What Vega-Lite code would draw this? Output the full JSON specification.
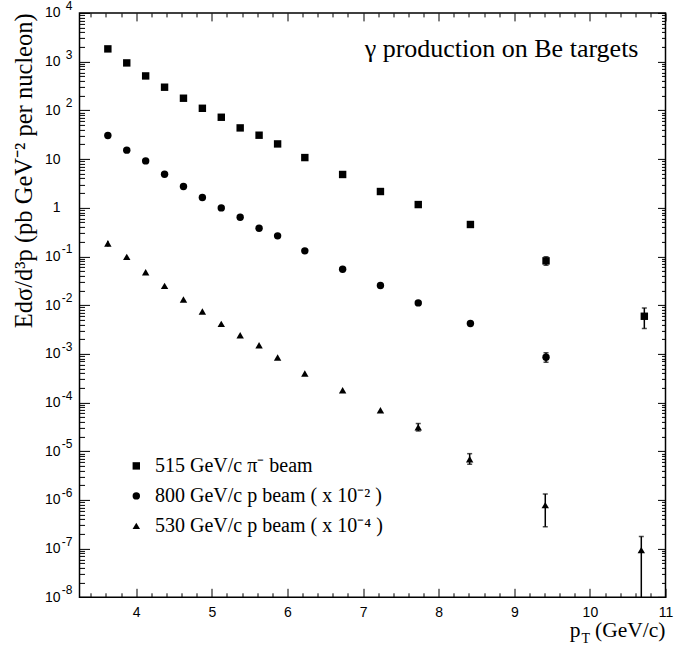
{
  "$schema": "https://vega.github.io/schema/vega-lite/v6.json",
  "autosize": "none",
  "width": 586,
  "height": 584.4,
  "padding": {"left": 79.5, "top": 12.9, "right": 33.5, "bottom": 49.7},
  "background": "white",
  "config": {"view": {"stroke": "black", "strokeWidth": 1.5}},
  "datasets": {
    "main": [
      {"series": "515 GeV/c π⁻ beam", "x": 3.625, "y": 1824, "lo": 1600, "hi": 2050},
      {"series": "515 GeV/c π⁻ beam", "x": 3.875, "y": 940},
      {"series": "515 GeV/c π⁻ beam", "x": 4.125, "y": 508},
      {"series": "515 GeV/c π⁻ beam", "x": 4.375, "y": 298},
      {"series": "515 GeV/c π⁻ beam", "x": 4.625, "y": 177},
      {"series": "515 GeV/c π⁻ beam", "x": 4.875, "y": 110},
      {"series": "515 GeV/c π⁻ beam", "x": 5.125, "y": 72},
      {"series": "515 GeV/c π⁻ beam", "x": 5.375, "y": 43.5},
      {"series": "515 GeV/c π⁻ beam", "x": 5.625, "y": 30.8},
      {"series": "515 GeV/c π⁻ beam", "x": 5.87, "y": 20.4},
      {"series": "515 GeV/c π⁻ beam", "x": 6.23, "y": 10.7},
      {"series": "515 GeV/c π⁻ beam", "x": 6.73, "y": 4.81},
      {"series": "515 GeV/c π⁻ beam", "x": 7.23, "y": 2.15},
      {"series": "515 GeV/c π⁻ beam", "x": 7.73, "y": 1.16},
      {"series": "515 GeV/c π⁻ beam", "x": 8.42, "y": 0.452},
      {"series": "515 GeV/c π⁻ beam", "x": 9.42, "y": 0.081, "lo": 0.066, "hi": 0.098},
      {"series": "515 GeV/c π⁻ beam", "x": 10.72, "y": 0.0059, "lo": 0.0033, "hi": 0.0087},
      {"series": "800 GeV/c p beam ( x 10⁻² )", "x": 3.625, "y": 30.4, "lo": 26, "hi": 35},
      {"series": "800 GeV/c p beam ( x 10⁻² )", "x": 3.875, "y": 15.2},
      {"series": "800 GeV/c p beam ( x 10⁻² )", "x": 4.125, "y": 9.15},
      {"series": "800 GeV/c p beam ( x 10⁻² )", "x": 4.375, "y": 4.87},
      {"series": "800 GeV/c p beam ( x 10⁻² )", "x": 4.625, "y": 2.72},
      {"series": "800 GeV/c p beam ( x 10⁻² )", "x": 4.875, "y": 1.62},
      {"series": "800 GeV/c p beam ( x 10⁻² )", "x": 5.125, "y": 0.99},
      {"series": "800 GeV/c p beam ( x 10⁻² )", "x": 5.375, "y": 0.638},
      {"series": "800 GeV/c p beam ( x 10⁻² )", "x": 5.625, "y": 0.379},
      {"series": "800 GeV/c p beam ( x 10⁻² )", "x": 5.87, "y": 0.264},
      {"series": "800 GeV/c p beam ( x 10⁻² )", "x": 6.23, "y": 0.13},
      {"series": "800 GeV/c p beam ( x 10⁻² )", "x": 6.73, "y": 0.0546},
      {"series": "800 GeV/c p beam ( x 10⁻² )", "x": 7.23, "y": 0.0252},
      {"series": "800 GeV/c p beam ( x 10⁻² )", "x": 7.73, "y": 0.0111},
      {"series": "800 GeV/c p beam ( x 10⁻² )", "x": 8.42, "y": 0.00419},
      {"series": "800 GeV/c p beam ( x 10⁻² )", "x": 9.42, "y": 0.00085, "lo": 0.00067, "hi": 0.00105},
      {"series": "530 GeV/c p beam ( x 10⁻⁴ )", "x": 3.625, "y": 0.184, "lo": 0.16, "hi": 0.21},
      {"series": "530 GeV/c p beam ( x 10⁻⁴ )", "x": 3.875, "y": 0.0977},
      {"series": "530 GeV/c p beam ( x 10⁻⁴ )", "x": 4.125, "y": 0.0474},
      {"series": "530 GeV/c p beam ( x 10⁻⁴ )", "x": 4.375, "y": 0.0248},
      {"series": "530 GeV/c p beam ( x 10⁻⁴ )", "x": 4.625, "y": 0.013},
      {"series": "530 GeV/c p beam ( x 10⁻⁴ )", "x": 4.875, "y": 0.0074},
      {"series": "530 GeV/c p beam ( x 10⁻⁴ )", "x": 5.125, "y": 0.00411},
      {"series": "530 GeV/c p beam ( x 10⁻⁴ )", "x": 5.375, "y": 0.00241},
      {"series": "530 GeV/c p beam ( x 10⁻⁴ )", "x": 5.625, "y": 0.0015},
      {"series": "530 GeV/c p beam ( x 10⁻⁴ )", "x": 5.87, "y": 0.00084},
      {"series": "530 GeV/c p beam ( x 10⁻⁴ )", "x": 6.23, "y": 0.000394},
      {"series": "530 GeV/c p beam ( x 10⁻⁴ )", "x": 6.73, "y": 0.000179},
      {"series": "530 GeV/c p beam ( x 10⁻⁴ )", "x": 7.23, "y": 0.0000695},
      {"series": "530 GeV/c p beam ( x 10⁻⁴ )", "x": 7.73, "y": 0.0000311, "lo": 0.000026, "hi": 0.000037},
      {"series": "530 GeV/c p beam ( x 10⁻⁴ )", "x": 8.41, "y": 0.00000685, "lo": 0.0000054, "hi": 0.0000089},
      {"series": "530 GeV/c p beam ( x 10⁻⁴ )", "x": 9.41, "y": 0.00000078, "lo": 0.00000028, "hi": 0.00000132},
      {"series": "530 GeV/c p beam ( x 10⁻⁴ )", "x": 10.68, "y": 0.000000093, "lo": 0.000000001, "hi": 0.000000178}
    ],
    "yexp": [
      {"v": 10000, "e": "4"}, {"v": 1000, "e": "3"}, {"v": 100, "e": "2"},
      {"v": 0.1, "e": "-1"}, {"v": 0.01, "e": "-2"}, {"v": 0.001, "e": "-3"},
      {"v": 0.0001, "e": "-4"}, {"v": 0.00001, "e": "-5"}, {"v": 0.000001, "e": "-6"},
      {"v": 0.0000001, "e": "-7"}, {"v": 0.00000001, "e": "-8"}
    ]
  },
  "layer": [
    {
      "data": {"name": "main"},
      "transform": [{"filter": "datum.lo != null"}],
      "mark": {"type": "rule", "color": "black", "strokeWidth": 1.5, "clip": true},
      "encoding": {
        "x": {"field": "x", "type": "quantitative",
          "axis": {"orient": "top", "labels": false, "title": null, "tickCount": 40, "grid": false, "domain": false,
            "tickColor": "black", "tickWidth": 1,
            "tickSize": {"condition": {"test": "abs(datum.value - round(datum.value)) < 1e-6", "value": -8}, "value": -4}}},
        "y": {"field": "lo", "type": "quantitative",
          "axis": {"orient": "right", "labels": false, "title": null, "tickCount": 200, "grid": false, "domain": false,
            "tickColor": "black", "tickWidth": 1,
            "tickSize": {"condition": {"test": "abs(log(datum.value)/LN10 - round(log(datum.value)/LN10)) < 1e-6", "value": -8}, "value": -4}}},
        "y2": {"field": "hi"}
      }
    },
    {
      "data": {"name": "main"},
      "transform": [{"filter": "datum.lo != null && datum.hi / datum.lo > 1.4"}],
      "mark": {"type": "tick", "orient": "horizontal", "color": "black", "size": 5, "thickness": 1.5, "clip": true},
      "encoding": {
        "x": {"field": "x", "type": "quantitative", "axis": null},
        "y": {"field": "lo", "type": "quantitative", "axis": null}
      }
    },
    {
      "data": {"name": "main"},
      "transform": [{"filter": "datum.lo != null && datum.hi / datum.lo > 1.4"}],
      "mark": {"type": "tick", "orient": "horizontal", "color": "black", "size": 5, "thickness": 1.5, "clip": true},
      "encoding": {
        "x": {"field": "x", "type": "quantitative", "axis": null},
        "y": {"field": "hi", "type": "quantitative", "axis": null}
      }
    },
    {
      "data": {"name": "main"},
      "mark": {"type": "point", "filled": true, "color": "black", "size": 55, "opacity": 1},
      "encoding": {
        "x": {"field": "x", "type": "quantitative",
          "scale": {"domain": [3.25, 11], "nice": false, "zero": false},
          "axis": {"orient": "bottom", "title": null, "tickCount": 40, "grid": false, "domain": false,
            "tickColor": "black", "tickWidth": 1,
            "tickSize": {"condition": {"test": "abs(datum.value - round(datum.value)) < 1e-6", "value": -9}, "value": -4.5},
            "labelExpr": "abs(datum.value - round(datum.value)) < 1e-6 ? '' + round(datum.value) : ''",
            "labelFont": "Liberation Sans", "labelFontSize": 14, "labelColor": "black", "labelPadding": 17,
            "labelOverlap": false, "labelFlush": false, "labelBound": false}},
        "y": {"field": "y", "type": "quantitative",
          "scale": {"type": "log", "domain": [1e-8, 10000], "nice": false},
          "axis": {"orient": "left", "title": "Edσ/d³p (pb GeV⁻² per nucleon)", "tickCount": 200, "grid": false, "domain": false,
            "tickColor": "black", "tickWidth": 1,
            "tickSize": {"condition": {"test": "abs(log(datum.value)/LN10 - round(log(datum.value)/LN10)) < 1e-6", "value": -10}, "value": -5},
            "labelExpr": "abs(log(datum.value)/LN10 - round(log(datum.value)/LN10)) > 1e-6 ? '' : (round(log(datum.value)/LN10) == 0 ? '1' : (round(log(datum.value)/LN10) < 0 ? '10\u00a0' : '10'))",
            "labelFont": "Liberation Sans", "labelFontSize": 14, "labelColor": "black", "labelPadding": 29.5,
            "labelOverlap": false, "labelFlush": false, "labelBound": false,
            "titleFont": "Liberation Serif", "titleFontSize": 24.5, "titleFontWeight": "normal", "titleColor": "black",
            "titleAnchor": "end", "titleAngle": 270, "titleX": -55, "titleY": 0, "titleAlign": "right", "titleBaseline": "middle"}},
        "shape": {"field": "series", "type": "nominal",
          "scale": {"domain": ["515 GeV/c π⁻ beam", "800 GeV/c p beam ( x 10⁻² )", "530 GeV/c p beam ( x 10⁻⁴ )"],
                    "range": ["square", "circle", "triangle-up"]},
          "legend": {"orient": "none", "legendX": 46.8, "legendY": 443, "title": null,
            "labelFont": "Liberation Serif", "labelFontSize": 20, "labelColor": "black", "labelLimit": 500,
            "symbolSize": 55, "symbolFillColor": "black", "symbolStrokeColor": "black", "symbolStrokeWidth": 0,
            "labelOffset": 8.7, "rowPadding": 10, "padding": 0}}
      }
    },
    {
      "data": {"name": "yexp"},
      "mark": {"type": "text", "font": "Liberation Sans", "fontSize": 12, "align": "right", "baseline": "middle", "dx": -7, "dy": -7, "color": "black"},
      "encoding": {
        "x": {"datum": 3.25, "type": "quantitative", "axis": null},
        "y": {"field": "v", "type": "quantitative", "axis": null},
        "text": {"field": "e"}
      }
    },
    {
      "data": {"values": [{}]},
      "mark": {"type": "text", "text": "γ production on Be targets", "font": "Liberation Serif", "fontSize": 26, "align": "right", "baseline": "alphabetic", "dx": -27, "dy": 44, "color": "black"},
      "encoding": {
        "x": {"datum": 11, "type": "quantitative", "axis": null},
        "y": {"datum": 10000, "type": "quantitative", "axis": null}
      }
    },
    {
      "data": {"values": [{}]},
      "mark": {"type": "text", "text": "(GeV/c)", "font": "Liberation Serif", "fontSize": 21.5, "align": "right", "baseline": "alphabetic", "dx": 0, "dy": 39.4, "color": "black"},
      "encoding": {
        "x": {"datum": 11, "type": "quantitative", "axis": null},
        "y": {"datum": 1e-8, "type": "quantitative", "axis": null}
      }
    },
    {
      "data": {"values": [{}]},
      "mark": {"type": "text", "text": "T", "font": "Liberation Serif", "fontSize": 14, "align": "right", "baseline": "alphabetic", "dx": -75.5, "dy": 45.7, "color": "black"},
      "encoding": {
        "x": {"datum": 11, "type": "quantitative", "axis": null},
        "y": {"datum": 1e-8, "type": "quantitative", "axis": null}
      }
    },
    {
      "data": {"values": [{}]},
      "mark": {"type": "text", "text": "p", "font": "Liberation Serif", "fontSize": 21.5, "align": "right", "baseline": "alphabetic", "dx": -85, "dy": 39.4, "color": "black"},
      "encoding": {
        "x": {"datum": 11, "type": "quantitative", "axis": null},
        "y": {"datum": 1e-8, "type": "quantitative", "axis": null}
      }
    }
  ]
}
